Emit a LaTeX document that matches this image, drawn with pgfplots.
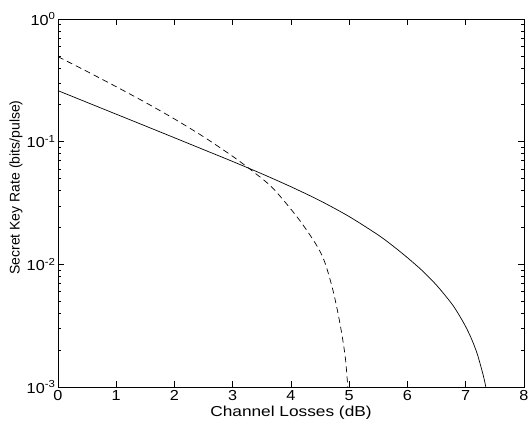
\documentclass[border=0pt]{standalone}
\usepackage{fontspec}
\setmainfont{Liberation Sans}
\usepackage{graphicx}
\usepackage{pgfplots}
\pgfplotsset{compat=1.18}

\begin{document}
\begin{tikzpicture}
\begin{axis}[
  scale only axis,
  width=466pt, height=368pt,
  at={(0,0)}, anchor=south west,
  ymode=log,
  xmin=0, xmax=8,
  ymin=1e-3, ymax=1,
  xtick={0,1,...,8},
  xticklabels={\scalebox{1.12}[1]{0},\scalebox{1.12}[1]{1},\scalebox{1.12}[1]{2},\scalebox{1.12}[1]{3},\scalebox{1.12}[1]{4},\scalebox{1.12}[1]{5},\scalebox{1.12}[1]{6},\scalebox{1.12}[1]{7},\scalebox{1.12}[1]{8}},
  ytick={0.001,0.01,0.1,1},
  yticklabels={\scalebox{1.12}[1]{10\textsuperscript{-3}},\scalebox{1.12}[1]{10\textsuperscript{-2}},\scalebox{1.12}[1]{10\textsuperscript{-1}},\scalebox{1.12}[1]{10\textsuperscript{0}}},
  xticklabel style={font=\fontsize{14.5}{16}\selectfont},
  yticklabel style={font=\fontsize{14.5}{16}\selectfont, xshift=1pt},
  xlabel={\scalebox{1.2}[1]{Channel Losses (dB)}},
  ylabel={Secret Key Rate (bits/pulse)},
  xlabel style={font=\fontsize{14.4}{16}\selectfont,
    at={(axis description cs:0.5,0)}, anchor=north, inner sep=0pt, yshift=-19pt},
  ylabel style={font=\fontsize{14}{16}\selectfont,
    at={(axis description cs:-0.09,0.542)}, anchor=center, inner sep=0pt},
  tick align=inside,
  xtick pos=both, ytick pos=both,
  major tick length=6pt,
  minor tick length=3pt,
  axis line style={line width=0.9pt},
  every tick/.style={black, line width=0.6pt},
]

% solid curve
\addplot[black, line width=0.7pt, smooth] coordinates {
  (0,0.2606) (0.5,0.2089) (1,0.1675) (1.5,0.1343) (2,0.1076)
  (2.5,0.0861) (3,0.0689) (3.5,0.0547) (4,0.0429) (4.5,0.0330)
  (5,0.0245) (5.5,0.0173) (5.75,0.01413) (6,0.01132) (6.25,0.00891)
  (6.5,0.00675) (6.75,0.00484) (6.875,0.00394) (7,0.0031) (7.1,0.00246)
  (7.2,0.001845) (7.3,0.001247) (7.345,0.001)
};

% dashed curve
\addplot[black, line width=0.7pt, dash pattern=on 6pt off 4pt, smooth] coordinates {
  (0,0.4932) (0.5,0.3733) (1,0.2805) (1.5,0.2089) (2,0.1531)
  (2.5,0.1096) (3,0.0759) (3.35,0.0570) (3.69,0.0417) (4.1,0.0245)
  (4.38,0.01585) (4.52,0.01216) (4.61,0.00944) (4.73,0.00589)
  (4.84,0.00331) (4.93,0.00178) (4.975,0.001)
};
\end{axis}
\pgfresetboundingbox
\path[use as bounding box] (-58pt,-39pt) rectangle (472pt,387pt);
\end{tikzpicture}
\end{document}
